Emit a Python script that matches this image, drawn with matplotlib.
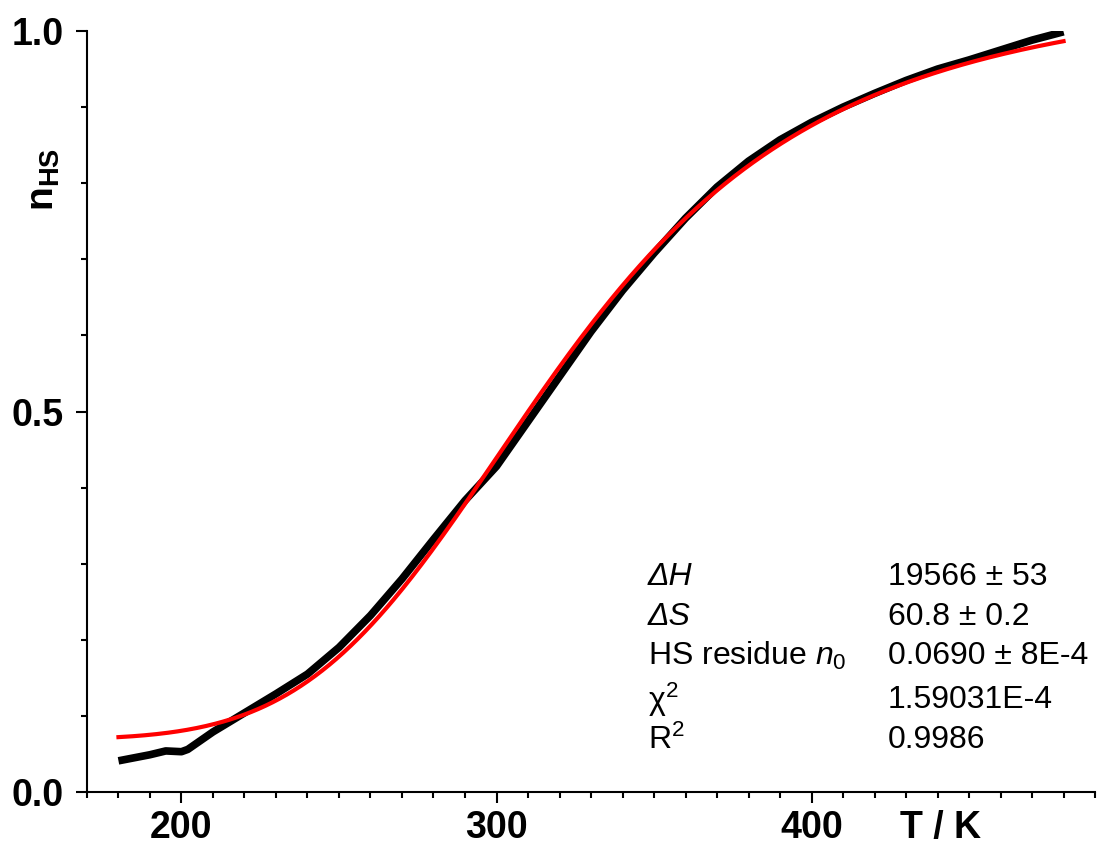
import numpy as np
import matplotlib
matplotlib.use("Agg")
import matplotlib.pyplot as plt
from matplotlib.ticker import MultipleLocator, FormatStrFormatter

plt.rcParams['font.family'] = ['Liberation Sans', 'DejaVu Sans']
plt.rcParams['mathtext.fontset'] = 'custom'
plt.rcParams['mathtext.rm'] = 'Liberation Sans'
plt.rcParams['mathtext.it'] = 'Liberation Sans:italic'
plt.rcParams['mathtext.bf'] = 'Liberation Sans:bold'

# measured HS fraction vs temperature
temp_K = [180, 185, 190, 195, 200, 202, 210, 220, 230, 240, 250, 260, 270, 280,
          290, 300, 310, 320, 330, 340, 350, 360, 370, 380, 390, 400, 410, 420,
          430, 440, 450, 460, 470, 480]
n_hs = [0.041, 0.045, 0.049, 0.054, 0.053, 0.056, 0.079, 0.104, 0.129, 0.155,
        0.190, 0.232, 0.280, 0.332, 0.383, 0.428, 0.487, 0.546, 0.605, 0.659,
        0.708, 0.754, 0.795, 0.829, 0.857, 0.880, 0.900, 0.918, 0.935, 0.950,
        0.962, 0.975, 0.988, 0.999]

# fit parameters
dH = 19566.0   # J/mol
dS = 60.8      # J/(mol K)
n0 = 0.0690
R = 8.314

fit_labels = ['ΔH', 'ΔS', r'HS residue $\mathit{n}_\mathit{0}$', r'χ$^2$', r'R$^2$']
fit_italic = [True, True, False, False, False]
fit_values = ['19566 ± 53', '60.8 ± 0.2', '0.0690 ± 8E-4', '1.59031E-4', '0.9986']

t_fit = np.linspace(180, 480, 400)
n_fit = n0 + 1.0 / (1.0 + np.exp((dH - t_fit * dS) / (R * t_fit)))

fig = plt.figure(figsize=(11.05, 8.47), dpi=100)
ax = fig.add_axes([0.0787, 0.0649, 0.9123, 0.8985])

ax.plot(temp_K, n_hs, color='black', lw=5.5, solid_capstyle='butt', zorder=2)
ax.plot(t_fit, n_fit, color='#ff0000', lw=3, zorder=3)

ax.set_xlim(170, 490)
ax.set_ylim(0, 1.0)
ax.xaxis.set_major_locator(MultipleLocator(100))
ax.xaxis.set_minor_locator(MultipleLocator(10))
ax.yaxis.set_major_locator(MultipleLocator(0.5))
ax.yaxis.set_minor_locator(MultipleLocator(0.1))
ax.yaxis.set_major_formatter(FormatStrFormatter('%.1f'))

for side in ['top', 'right']:
    ax.spines[side].set_visible(False)
for side in ['left', 'bottom']:
    ax.spines[side].set_linewidth(1.5)

ax.tick_params(which='major', direction='out', length=8, width=1.5,
               labelsize=27)
ax.tick_params(which='minor', direction='out', length=4, width=1.5)
for lab in ax.get_xticklabels() + ax.get_yticklabels():
    lab.set_fontweight('bold')
ax.tick_params(axis='x', pad=5)
ax.tick_params(axis='y', pad=9)

fig.text(0.04, 1 - 180 / 847, r'$\mathbf{n}_{\mathbf{HS}}$', rotation=90,
         fontsize=28, ha='center', va='center')
fig.text(940 / 1105, 1 - 828 / 847, 'T / K', fontsize=27, fontweight='bold',
         ha='center', va='center')

row_y = [577, 617, 656, 700, 740]
for lab, ital, val, y in zip(fit_labels, fit_italic, fit_values, row_y):
    fig.text(648 / 1105, 1 - y / 847, lab, fontsize=23,
             style='italic' if ital else 'normal', ha='left', va='center')
    fig.text(888 / 1105, 1 - y / 847, val, fontsize=23, ha='left', va='center')

fig.savefig('out.png', dpi=100)
